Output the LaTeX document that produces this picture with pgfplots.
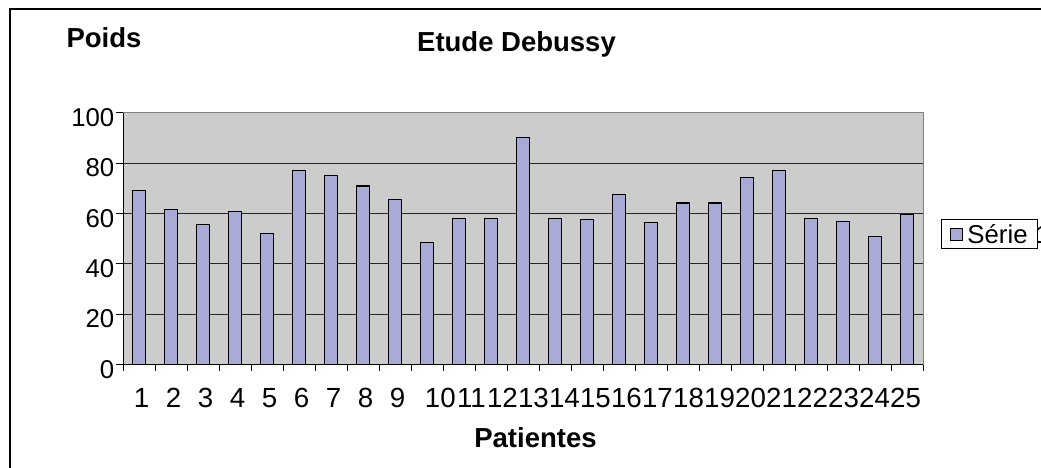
\documentclass[border=0pt]{standalone}
\usepackage{fontspec}
\setmainfont{Liberation Sans}
\usepackage{pgfplots}
\pgfplotsset{compat=1.18}
\definecolor{barfill}{RGB}{170,170,214}
\definecolor{plotbg}{RGB}{204,204,204}
\definecolor{frame}{RGB}{128,128,128}
\begin{document}
\begin{tikzpicture}[x=1pt,y=1pt]
\clip (0,0) rectangle (1041,468);
\fill[white] (0,0) rectangle (1041,468);
\draw[line width=2pt] (10,458.7) rectangle (1080,-30);
\begin{axis}[
  at={(123pt,103.7pt)}, anchor=south west,
  scale only axis, width=800pt, height=251.6pt,
  xmin=0.5, xmax=25.5, ymin=0, ymax=100,
  xtick={1,...,25},
  minor xtick={0.5,1.5,...,25.5},
  ytick={0,20,...,100},
  tick align=outside, tick pos=left,
  major tick length=7pt, minor tick length=6.5pt,
  major x tick style={draw=none},
  tick style={black, line width=0.8pt},
  ymajorgrids, major grid style={black!85, line width=0.8pt},
  axis line style={frame, line width=1pt},
  axis background/.style={fill=plotbg},
  /pgf/number format/assume math mode=true,
  xticklabel style={font=\fontsize{27.7}{32}\selectfont, anchor=base, yshift=-36.7pt,
    xshift={(\ticknum<9 ? 2.5 : 13.4-0.987*(\ticknum-9))*1pt}},
  yticklabel style={font=\fontsize{25.8}{30}\selectfont, anchor=east, inner sep=0pt, xshift=-1.5pt, yshift=-5pt},
  title={Etude Debussy}, xlabel={Patientes}, ylabel={Poids},
  every axis title/.style={at={(axis description cs:0.4919,1.2413)}, anchor=base, font=\fontsize{27.5}{32}\selectfont\bfseries},
  every axis x label/.style={at={(axis description cs:0.5156,-0.3299)}, anchor=base, font=\fontsize{27.5}{32}\selectfont\bfseries},
  every axis y label/.style={at={(axis description cs:-0.075,1.2599)}, anchor=base west, font=\fontsize{27.5}{32}\selectfont\bfseries},
  legend style={at={(axis description cs:1.0225,0.5763)}, anchor=north west, draw=black, line width=0.8pt, fill=white,
    font=\fontsize{25.8}{30}\selectfont, inner xsep=4pt, inner ysep=3pt, nodes={inner sep=0pt}},
]
\addplot[ybar, bar width=13.7pt, fill=barfill, draw=black, line width=1.2pt,
  legend image code/.code={\path[draw=none, fill=none] (0pt,-6pt) rectangle (22pt,6pt);
    \draw[fill=barfill, draw=black, line width=0.8pt] (5pt,-6pt) rectangle (17pt,6pt);}]
  coordinates {
  (1,69.0) (2,61.4) (3,55.5) (4,60.8) (5,52.1) (6,76.9) (7,75.0) (8,70.9) (9,65.6) (10,48.5)
  (11,58.1) (12,58.1) (13,90.3) (14,58.1) (15,57.5) (16,67.6) (17,56.2) (18,64.1) (19,64.1) (20,74.2)
  (21,76.9) (22,58.1) (23,56.8) (24,50.7) (25,59.5)};
\addlegendentry{\makebox[66pt][l]{\strut Série\hspace{8pt}1}}
\draw[black, line width=1pt] (rel axis cs:0,1) -- (rel axis cs:0,0) -- (rel axis cs:1,0);
\end{axis}
\end{tikzpicture}
\end{document}
